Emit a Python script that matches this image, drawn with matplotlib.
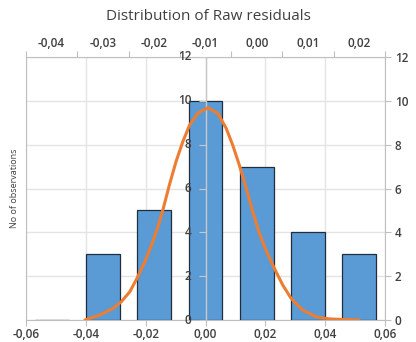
import matplotlib
matplotlib.use("Agg")
import matplotlib.pyplot as plt
from matplotlib.markers import TICKLEFT

plt.rcParams["font.family"] = ["Open Sans", "DejaVu Sans"]

# top category axis (bins) and bar counts
bin_labels = ["-0,04", "-0,03", "-0,02", "-0,01", "0,00", "0,01", "0,02"]
counts = [0, 3, 5, 10, 7, 4, 3]

# bottom value axis
x_ticks = [-0.06, -0.04, -0.02, 0.00, 0.02, 0.04, 0.06]
x_tick_labels = ["-0,06", "-0,04", "-0,02", "0,00", "0,02", "0,04", "0,06"]
y_ticks = [0, 2, 4, 6, 8, 10, 12]

# fitted normal curve
curve_x = [-0.0403, -0.0353, -0.0309, -0.0281, -0.0253, -0.0231, -0.0203,
           -0.0181, -0.0159, -0.0142, -0.0120, -0.0098, -0.0076, -0.0053,
           -0.0026, 0.0008, 0.0041, 0.0069, 0.0091, 0.0113, 0.0136,
           0.0158, 0.0180, 0.0202, 0.0230, 0.0258, 0.0286, 0.0324,
           0.0369, 0.0413, 0.0513]
curve_y = [0.0, 0.23, 0.53, 0.84, 1.29, 1.85, 2.65,
           3.4, 4.25, 5.05, 6.2, 7.25, 8.13, 8.90,
           9.43, 9.69, 9.43, 8.75, 7.98, 7.07, 6.01,
           4.94, 3.96, 3.19, 2.36, 1.60, 0.99, 0.46,
           0.15, 0.05, 0.0]

TXT = "#404040"
AXC = "#BFBFBF"
GRID = "#E4E4E4"
FS = 8.5
FW = "semibold"

fig = plt.figure(figsize=(4.16, 3.42), dpi=100)
pos = [26 / 416, 22 / 342, 359 / 416, 263 / 342]

# base axes: bottom value axis + gridlines
ax = fig.add_axes(pos)
ax.set_xlim(-0.06, 0.06)
ax.set_ylim(0, 12)

# top category axis with histogram bars
ax2 = ax.twiny()
# right secondary value axis
axr = ax.twinx()

ax.set_xticks(x_ticks)
ax.set_xticklabels(x_tick_labels, color=TXT, fontsize=FS, fontweight=FW)
ax.set_yticks(y_ticks)
ax.tick_params(axis="y", left=False, labelleft=False, right=False, labelright=False)
ax.tick_params(axis="x", colors=AXC, labelcolor=TXT, length=4, width=0.8, pad=2)
ax.grid(True, color=GRID, lw=1.0)
ax.set_axisbelow(True)
for s in ["left", "right", "top", "bottom"]:
    ax.spines[s].set_color(AXC)
    ax.spines[s].set_linewidth(0.8)
ax.set_ylabel("No of observations", fontsize=6.5, color=TXT, labelpad=5)

ax2.set_xlim(0, len(counts))
ax2.set_ylim(0, 12)
cats = [i + 0.5 for i in range(len(counts))]
ax2.bar(cats, counts, width=0.66, color="#5B9BD5", edgecolor="#1F2D3D", lw=0.9)
ax2.set_xticks(range(len(counts) + 1))
ax2.set_xticklabels([])
ax2.set_xticks(cats, minor=True)
ax2.set_xticklabels(bin_labels, minor=True, color=TXT, fontsize=FS, fontweight=FW)
ax2.tick_params(axis="x", which="major", colors=AXC, length=4, width=0.8)
ax2.tick_params(axis="x", which="minor", length=0, pad=5)
for s in ["left", "right", "top", "bottom"]:
    ax2.spines[s].set_visible(False)

axr.set_ylim(0, 12)
axr.set_yticks(y_ticks)
axr.set_yticklabels([str(v) for v in y_ticks], color=TXT, fontsize=FS, fontweight=FW)
axr.tick_params(axis="y", colors=AXC, labelcolor=TXT, length=4, width=0.8, pad=3)
for s in ["left", "right", "top", "bottom"]:
    axr.spines[s].set_visible(False)

# overlay: curve and vertical axis crossing at x = 0
ax3 = fig.add_axes(pos)
ax3.set_xlim(-0.06, 0.06)
ax3.set_ylim(0, 12)
ax3.axis("off")
ax3.axvline(0, color="#C8C8C8", lw=1.0)
ax3.plot([0] * len(y_ticks), y_ticks, ls="none", marker=TICKLEFT,
         markersize=5, color="#C8C8C8", mew=0.8)
for v in y_ticks:
    ax3.annotate(str(v), (0, v), xytext=(-10, 0), textcoords="offset points",
                 ha="right", va="center", fontsize=FS, fontweight=FW, color=TXT)
ax3.plot(curve_x, curve_y, color="#ED7D31", lw=2.2, solid_joinstyle="round",
         solid_capstyle="round")

fig.text(0.5, 1 - 17 / 342, "Distribution of Raw residuals", ha="center",
         va="center", fontsize=11, color=TXT)

fig.savefig("out.png", dpi=100)
